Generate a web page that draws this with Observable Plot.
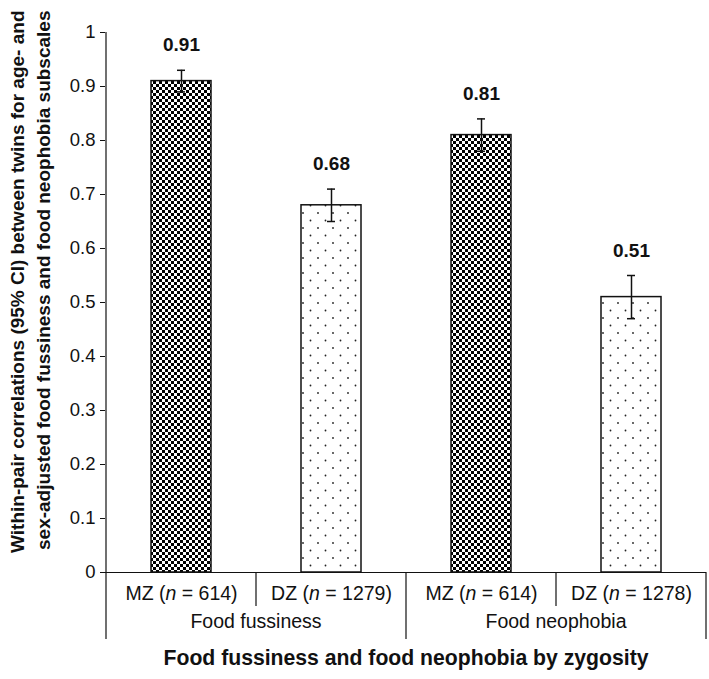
<!DOCTYPE html>
<html><head><meta charset="utf-8">
<script src="https://cdn.jsdelivr.net/npm/d3@7"></script>
<script src="https://cdn.jsdelivr.net/npm/@observablehq/plot@0.6"></script>
<style>body{margin:0;background:#fff} svg{display:block}</style>
</head><body><div id="chart"></div>
<script>
const ids = ["fuss-MZ", "fuss-DZ", "neo-MZ", "neo-DZ"];
const groups = ["Food fussiness", "Food fussiness", "Food neophobia", "Food neophobia"];
const zygosity = ["MZ", "DZ", "MZ", "DZ"];
const sampleSizes = [614, 1279, 614, 1278];
const correlations = [0.91, 0.68, 0.81, 0.51];
const ciLower = [0.89, 0.65, 0.78, 0.47];
const ciUpper = [0.93, 0.71, 0.84, 0.55];
const valueLabels = ["0.91", "0.68", "0.81", "0.51"];
const yTicks = [0, 0.1, 0.2, 0.3, 0.4, 0.5, 0.6, 0.7, 0.8, 0.9, 1];
const yTickLabels = ["0", "0.1", "0.2", "0.3", "0.4", "0.5", "0.6", "0.7", "0.8", "0.9", "1"];
const groupNames = ["Food fussiness", "Food neophobia"];
const yTitle = "Within-pair correlations (95% CI) between twins for age- and\nsex-adjusted food fussiness and food neophobia subscales";
const xTitle = "Food fussiness and food neophobia by zygosity";

const data = ids.map((id, i) => ({
  id, group: groups[i], zyg: zygosity[i], n: sampleSizes[i],
  r: correlations[i], lo: ciLower[i], hi: ciUpper[i], label: valueLabels[i]
}));
const catLabel = d => `${zygosity[ids.indexOf(d)]} (n = ${sampleSizes[ids.indexOf(d)]})`;

const FONT = "'Liberation Sans', Arial, Helvetica, sans-serif";
const INK = "#111";

const plot = Plot.plot({
  width: 709,
  height: 679,
  marginLeft: 105,
  marginRight: 3,
  marginTop: 32,
  marginBottom: 107,
  style: {fontFamily: FONT, background: "#fff", color: INK},
  x: {type: "band", domain: ids, paddingInner: 0.6, paddingOuter: 0.3, axis: null},
  y: {domain: [0, 1], axis: null},
  marks: [
    Plot.axisY({ticks: yTicks, tickFormat: (d, i) => yTickLabels[i], tickSize: 5, tickPadding: 5, fontSize: 18.5, stroke: INK, fill: INK}),
    Plot.axisX({ticks: ids, tickFormat: catLabel, tickSize: 0, tickPadding: 14, fontSize: 19.5, fill: INK, label: null}),
    Plot.barY(data.filter(d => d.zyg === "MZ"), {x: "id", y: "r", fill: "url(#checker)", stroke: INK, strokeWidth: 1.5}),
    Plot.barY(data.filter(d => d.zyg === "DZ"), {x: "id", y: "r", fill: "url(#dots)", stroke: INK, strokeWidth: 1.5}),
    Plot.ruleY([0], {stroke: INK, strokeWidth: 1.2}),
    Plot.ruleX(data, {x: "id", y1: "lo", y2: "hi", stroke: INK, strokeWidth: 1.5}),
    Plot.tickY(data, {x: "id", y: "lo", stroke: INK, strokeWidth: 1.5, insetLeft: 26, insetRight: 26}),
    Plot.tickY(data, {x: "id", y: "hi", stroke: INK, strokeWidth: 1.5, insetLeft: 26, insetRight: 26}),
    Plot.text(data, {x: "id", y: "hi", text: "label", dy: -25, fontSize: 19, fontWeight: "bold", fill: INK}),
    Plot.text([yTitle], {frameAnchor: "top-left", rotate: -90, dx: -77, dy: -22, lineAnchor: "middle", lineHeight: 1.37, fontSize: 19, fontWeight: "bold", fill: INK, textAnchor: "end"}),
    Plot.text([xTitle], {frameAnchor: "bottom", dy: 92, fontSize: 21.2, fontWeight: "bold", fill: INK})
  ]
});

const svg = d3.select(plot);
const defs = svg.insert("defs", ":first-child");
const chk = defs.append("pattern").attr("id", "checker").attr("patternUnits", "userSpaceOnUse").attr("width", 6).attr("height", 6);
chk.append("rect").attr("width", 6).attr("height", 6).attr("fill", "#fff");
chk.append("rect").attr("width", 3).attr("height", 3).attr("fill", "#000");
chk.append("rect").attr("x", 3).attr("y", 3).attr("width", 3).attr("height", 3).attr("fill", "#000");
const dots = defs.append("pattern").attr("id", "dots").attr("patternUnits", "userSpaceOnUse").attr("width", 15).attr("height", 15);
dots.append("rect").attr("width", 15).attr("height", 15).attr("fill", "#fff");
dots.append("circle").attr("cx", 3).attr("cy", 3).attr("r", 0.9).attr("fill", "#222");
dots.append("circle").attr("cx", 10.5).attr("cy", 10.5).attr("r", 0.9).attr("fill", "#222");

// italic n in category labels
svg.selectAll("text").each(function() {
  const t = this.textContent;
  const m = /^(MZ|DZ) \(n = (\d+)\)$/.exec(t);
  if (m) {
    const el = d3.select(this);
    el.text(null);
    el.append("tspan").text(`${m[1]} (`);
    el.append("tspan").attr("font-style", "italic").text("n");
    el.append("tspan").text(` = ${m[2]})`);
  }
});

// separators & group labels from the x and y scales
const xs = plot.scale("x");
const ys = plot.scale("y");
const y0 = ys.apply(0);
const half = (xs.step - xs.bandwidth) / 2;
const g = svg.append("g").attr("stroke", INK).attr("stroke-width", 1.2);
g.append("line").attr("x1", xs.apply(ids[0]) - half).attr("x2", xs.apply(ids[0]) - half).attr("y1", ys.apply(1)).attr("y2", y0 + 67);
ids.forEach((id, i) => {
  const xr = xs.apply(id) + xs.bandwidth + half;
  const isGroupEnd = i === ids.length - 1 || groups[i + 1] !== groups[i];
  g.append("line").attr("x1", xr).attr("x2", xr).attr("y1", y0).attr("y2", y0 + (isGroupEnd ? 67 : 34));
});
groupNames.forEach(name => {
  const members = ids.filter((id, i) => groups[i] === name);
  const a = xs.apply(members[0]);
  const b = xs.apply(members[members.length - 1]) + xs.bandwidth;
  svg.append("text").attr("x", (a + b) / 2).attr("y", y0 + 56)
    .attr("text-anchor", "middle").attr("font-size", 19.5).attr("font-family", FONT).attr("fill", INK)
    .text(name);
});

document.getElementById("chart").appendChild(plot);
</script>
</body></html>
